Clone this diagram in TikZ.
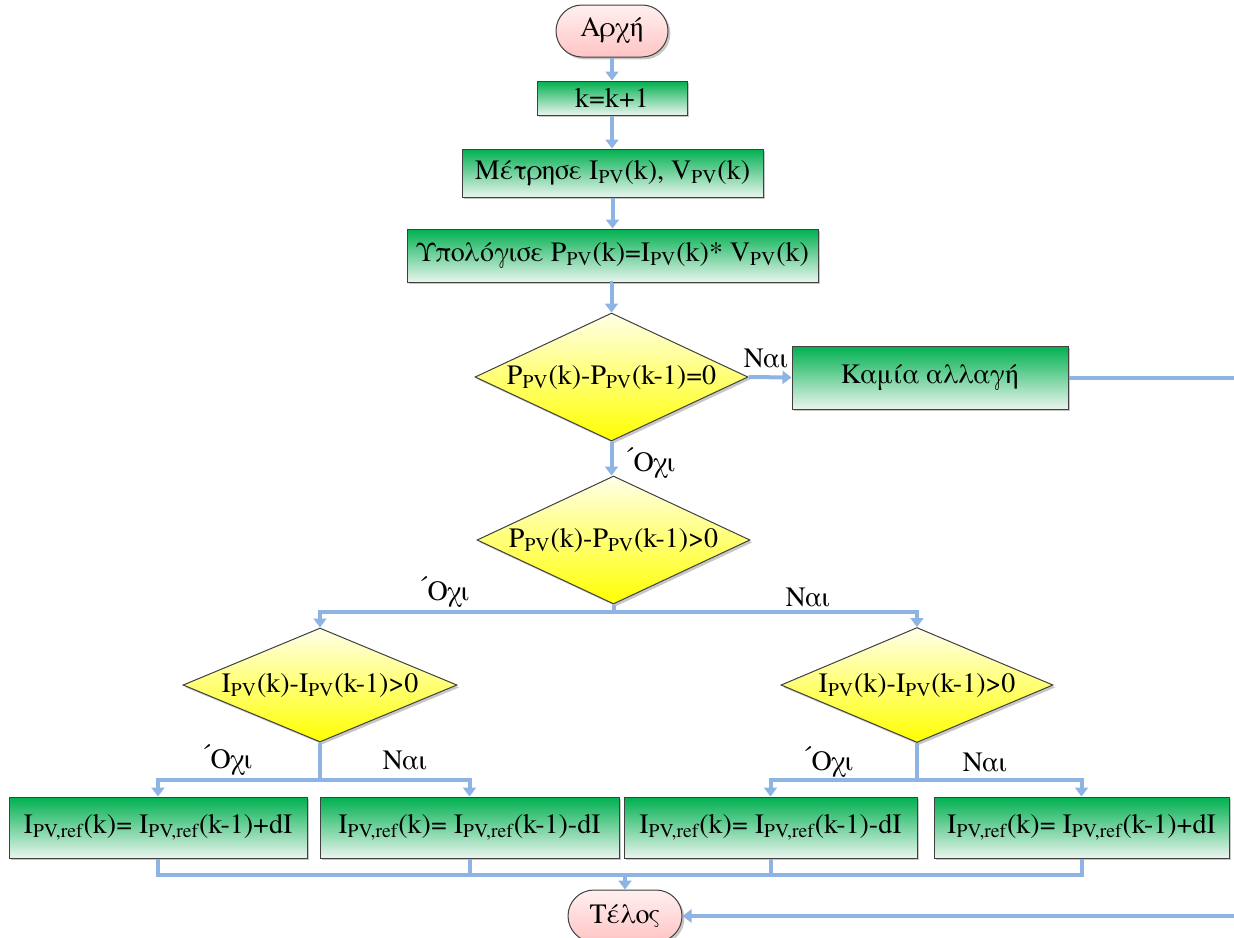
\documentclass[tikz,border=0pt]{standalone}
\usepackage{fontspec}
\setmainfont{TeX Gyre Termes}
\usetikzlibrary{shapes.geometric,arrows.meta,shadows,calc}

\definecolor{flowline}{RGB}{142,180,227}
\definecolor{boxgreen}{RGB}{0,176,80}
\definecolor{boxgreenlight}{RGB}{234,245,238}
\definecolor{diayellow}{RGB}{255,255,0}
\definecolor{diayellowlight}{RGB}{255,255,232}
\definecolor{termpink}{RGB}{255,196,196}
\definecolor{termpinklight}{RGB}{255,240,240}
\definecolor{edgegray}{RGB}{64,64,64}

\newcommand\lowtxt[1]{\textsubscript{#1}}
% Greek words: slightly tighter tracking
\newcommand\grk[1]{{\addfontfeature{LetterSpace=-4}#1}}
% Greek letters with tonos, built from the base letter and an acute
\newcommand\grtonos[1]{\leavevmode\ooalign{\hfil#1\hfil\cr\hfil´\hfil\cr}}
\newcommand\grTonosO{\leavevmode\raisebox{0.2em}{´}Ο}

\begin{document}
\begin{tikzpicture}[x=0.5pt,y=-0.5pt,
  font=\fontsize{14}{17}\selectfont,
  shapebase/.style={draw=edgegray, line width=0.5pt, inner sep=0pt,
    general shadow={fill=black, opacity=0.22, shadow xshift=1.2pt, shadow yshift=-1.2pt}},
  terminal/.style={shapebase, rectangle, rounded corners=13pt,
    top color=termpinklight, bottom color=termpink},
  process/.style={shapebase, rectangle,
    top color=boxgreen, bottom color=boxgreenlight},
  decision/.style={shapebase, diamond, shape aspect=2.1,
    top color=diayellowlight, bottom color=diayellow},
  conn/.style={draw=flowline, line width=2pt},
  arr/.style={conn, -{Triangle[width=6.5pt,length=4.5pt]}},
  lbl/.style={inner sep=0pt}
]
\useasboundingbox (0,0) rectangle (1234,937);
\clip (0,0) rectangle (1234,937);

% ---- shapes ----
\node[terminal, minimum width=56pt, minimum height=26pt] (start) at (612,31)
  {\grk{Αρχ\grtonos{η}}};
\node[process, minimum width=75pt, minimum height=17pt] (k) at (612,98) {k=k+1};
\node[process, minimum width=150.5pt, minimum height=24pt] (meas) at (612.5,173)
  {\grk{Μ\grtonos{ε}τρησε} I\lowtxt{PV}(k), V\lowtxt{PV}(k)};
\node[process, minimum width=205.5pt, minimum height=26.5pt] (calc) at (612.5,255.5)
  {\grk{Υπολ\grtonos{ο}γισε} P\lowtxt{PV}(k)=I\lowtxt{PV}(k)* V\lowtxt{PV}(k)};
\node[decision, minimum width=136.5pt, minimum height=64pt] (d1) at (611.5,377)
  {\makebox[0pt]{P\lowtxt{PV}(k)-P\lowtxt{PV}(k-1)=0}};
\node[process, minimum width=138pt, minimum height=31.5pt] (kam) at (930,377.5)
  {\grk{Καμ\grtonos{ι}α αλλαγ\grtonos{η}}};
\node[decision, minimum width=136.5pt, minimum height=64pt] (d2) at (613.5,540)
  {\makebox[0pt]{P\lowtxt{PV}(k)-P\lowtxt{PV}(k-1)>0}};
\node[decision, minimum width=137pt, minimum height=57pt] (d3) at (320,685)
  {\makebox[0pt]{I\lowtxt{PV}(k)-I\lowtxt{PV}(k-1)>0}};
\node[decision, minimum width=136pt, minimum height=57.5pt] (d4) at (917,685)
  {\makebox[0pt]{I\lowtxt{PV}(k)-I\lowtxt{PV}(k-1)>0}};
\node[process, minimum width=149pt, minimum height=30.5pt] (b1) at (158,827.5)
  {I\lowtxt{PV,ref}(k)= I\lowtxt{PV,ref}(k-1)+dI};
\node[process, minimum width=149.5pt, minimum height=30.5pt] (b2) at (469.5,827.5)
  {I\lowtxt{PV,ref}(k)= I\lowtxt{PV,ref}(k-1)-dI};
\node[process, minimum width=146.5pt, minimum height=30.5pt] (b3) at (770.5,827.5)
  {I\lowtxt{PV,ref}(k)= I\lowtxt{PV,ref}(k-1)-dI};
\node[process, minimum width=147.5pt, minimum height=30.5pt] (b4) at (1081.5,827.5)
  {I\lowtxt{PV,ref}(k)= I\lowtxt{PV,ref}(k-1)+dI};
\node[terminal, minimum width=57pt, minimum height=26pt] (end) at (625,916)
  {\grk{Τ\grtonos{ε}λος}};

% ---- branch points ----
\coordinate (s2) at (613.5,612);
\coordinate (s3) at (320,780);
\coordinate (s4) at (917,780);
\coordinate (j) at (625,875);
\coordinate (loop) at (1260,377.5);

% ---- connectors ----
\draw[arr] (start.south) -- (start.south |- k.north);
\draw[arr] (k.south) -- (k.south |- meas.north);
\draw[arr] (meas.south) -- (meas.south |- calc.north);
\draw[arr] (calc.south) -- (calc.south -| d1.north) -- (d1.north);
\draw[arr] (d1.east) -- (kam.west);
\draw[arr] (kam.east) -- (loop) |- (end.east);
\draw[arr] (d1.south) -- (d1.south |- d2.north);
\draw[conn] (d2.south) -- (s2);
\draw[arr] (s2) -| (d3.north);
\draw[arr] (s2) -| (d4.north);
\draw[conn] (d3.south) -- (s3);
\draw[arr] (s3) -| (b1.north);
\draw[arr] (s3) -| (b2.north);
\draw[conn] (d4.south) -- (s4);
\draw[arr] (s4) -| (b3.north);
\draw[arr] (s4) -| (b4.north);
\draw[conn] (b1.south) -- (b1.south |- j) -- (b4.south |- j) -- (b4.south);
\draw[conn] (b2.south) -- (b2.south |- j);
\draw[conn] (b3.south) -- (b3.south |- j);
\draw[arr] (j) -- (end.north);

% ---- branch labels ----
\node[lbl] (yes1) at (766,358) {\grk{Ναι}};
\node[lbl] (no1) at (650,463) {\grk{\grTonosO χι}};
\node[lbl] (no2) at (444,592) {\grk{\grTonosO χι}};
\node[lbl] (yes2) at (808,597) {\grk{Ναι}};
\node[lbl] (no3) at (227,760) {\grk{\grTonosO χι}};
\node[lbl] (yes3) at (405,760) {\grk{Ναι}};
\node[lbl] (no4) at (828,762) {\grk{\grTonosO χι}};
\node[lbl] (yes4) at (985,762) {\grk{Ναι}};
\end{tikzpicture}
\end{document}
